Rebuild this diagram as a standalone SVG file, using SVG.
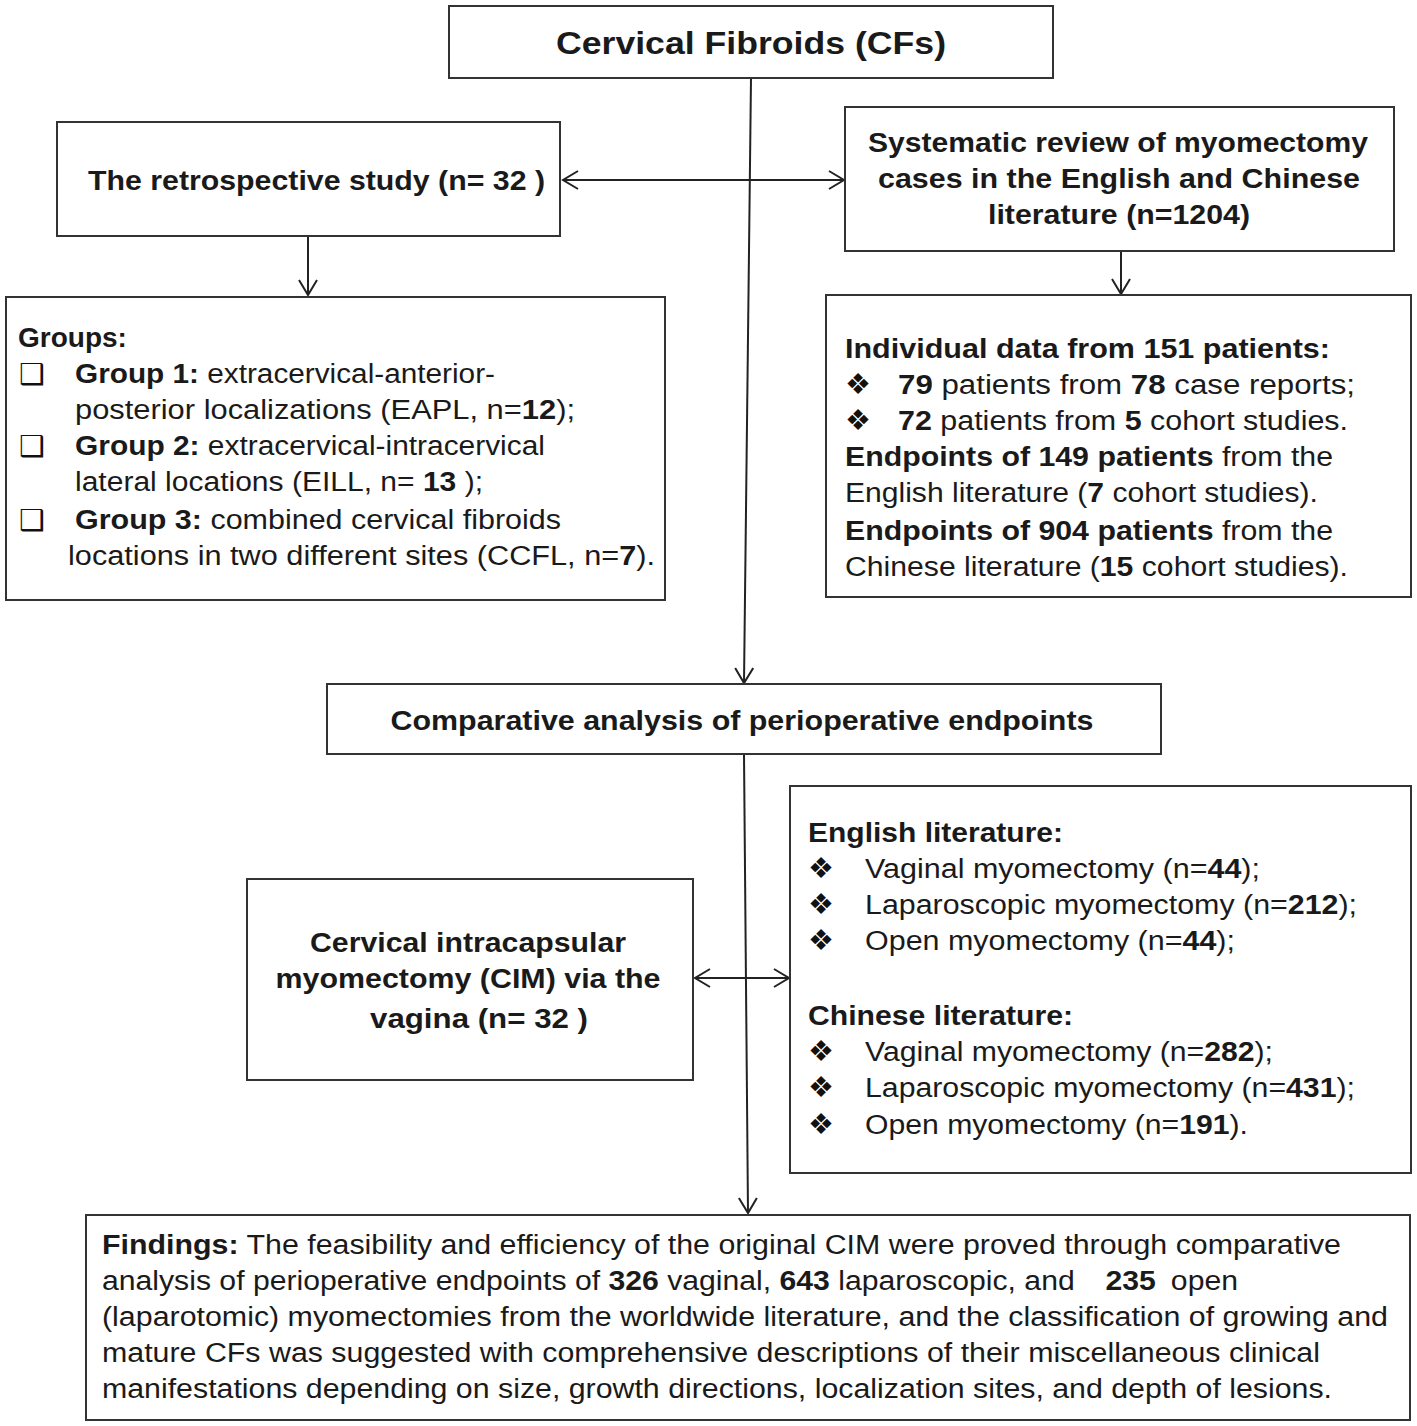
<svg xmlns="http://www.w3.org/2000/svg" width="1417" height="1426" viewBox="0 0 1417 1426">
<style>
.box{fill:#fff;stroke:#333;stroke-width:2}
.t{font-family:"Liberation Sans",Arial,sans-serif;font-size:27px;fill:#1a1a1a}
.b{font-weight:bold}
.c{text-anchor:middle}
.sym{font-family:"DejaVu Sans",sans-serif;font-size:29px;fill:#111}
.ln{stroke:#222;stroke-width:2;fill:none}
</style>
<defs>
<marker id="ah" markerUnits="userSpaceOnUse" markerWidth="20" markerHeight="22" refX="16" refY="10" orient="auto-start-reverse" viewBox="0 0 20 22">
<path d="M1,1 L16,10 L1,19" fill="none" stroke="#222" stroke-width="2"/>
</marker>
</defs>
<rect width="1417" height="1426" fill="#fff"/>

<g id="connectors">
<line class="ln" x1="751" y1="78" x2="744" y2="683" marker-end="url(#ah)"/>
<line class="ln" x1="563" y1="180" x2="844" y2="180" marker-start="url(#ah)" marker-end="url(#ah)"/>
<line class="ln" x1="308" y1="236" x2="308" y2="295" marker-end="url(#ah)"/>
<line class="ln" x1="1121" y1="251" x2="1121" y2="294" marker-end="url(#ah)"/>
<line class="ln" x1="744" y1="754" x2="748" y2="1213" marker-end="url(#ah)"/>
<line class="ln" x1="695" y1="978" x2="789" y2="978" marker-start="url(#ah)" marker-end="url(#ah)"/>
</g>

<g id="node-cfs">
<rect class="box" x="449" y="6" width="604" height="72"/>
<text class="t b c" x="751" y="54" style="font-size:32px" textLength="390" lengthAdjust="spacingAndGlyphs">Cervical Fibroids (CFs)</text>
</g>

<g id="node-retro">
<rect class="box" x="57" y="122" width="503" height="114"/>
<text class="t b" x="88" y="190" textLength="457" lengthAdjust="spacingAndGlyphs">The retrospective study (n= 32 )</text>
</g>

<g id="node-review">
<rect class="box" x="845" y="107" width="549" height="144"/>
<text class="t b c" x="1118" y="152" textLength="500" lengthAdjust="spacingAndGlyphs">Systematic review of myomectomy</text>
<text class="t b c" x="1119" y="188" textLength="482" lengthAdjust="spacingAndGlyphs">cases in the English and Chinese</text>
<text class="t b c" x="1119" y="224" textLength="262" lengthAdjust="spacingAndGlyphs">literature (n=1204)</text>
</g>

<g id="node-groups">
<rect class="box" x="6" y="297" width="659" height="303"/>
<text class="t b" x="18" y="347" style="font-size:28px">Groups:</text>
<text class="sym" x="19" y="384">❑</text>
<text class="t" x="75" y="383" textLength="420" lengthAdjust="spacingAndGlyphs"><tspan class="b">Group 1:</tspan> extracervical-anterior-</text>
<text class="t" x="75" y="419" textLength="500" lengthAdjust="spacingAndGlyphs">posterior localizations (EAPL, n=<tspan class="b">12</tspan>);</text>
<text class="sym" x="19" y="456">❑</text>
<text class="t" x="75" y="455" textLength="470" lengthAdjust="spacingAndGlyphs"><tspan class="b">Group 2:</tspan> extracervical-intracervical</text>
<text class="t" x="75" y="491" textLength="408" lengthAdjust="spacingAndGlyphs">lateral locations (EILL, n= <tspan class="b">13</tspan> );</text>
<text class="sym" x="19" y="530">❑</text>
<text class="t" x="75" y="529" textLength="486" lengthAdjust="spacingAndGlyphs"><tspan class="b">Group 3:</tspan> combined cervical fibroids</text>
<text class="t" x="68" y="565" textLength="587" lengthAdjust="spacingAndGlyphs">locations in two different sites (CCFL, n=<tspan class="b">7</tspan>).</text>
</g>

<g id="node-individual">
<rect class="box" x="826" y="295" width="585" height="302"/>
<text class="t b" x="845" y="358" textLength="485" lengthAdjust="spacingAndGlyphs">Individual data from 151 patients:</text>
<text class="sym" x="845" y="394">❖</text>
<text class="t" x="898" y="394" textLength="457" lengthAdjust="spacingAndGlyphs"><tspan class="b">79</tspan> patients from <tspan class="b">78</tspan> case reports;</text>
<text class="sym" x="845" y="430">❖</text>
<text class="t" x="898" y="430" textLength="450" lengthAdjust="spacingAndGlyphs"><tspan class="b">72</tspan> patients from <tspan class="b">5</tspan> cohort studies.</text>
<text class="t" x="845" y="466" textLength="488" lengthAdjust="spacingAndGlyphs"><tspan class="b">Endpoints of 149 patients</tspan> from the</text>
<text class="t" x="845" y="502" textLength="473" lengthAdjust="spacingAndGlyphs">English literature (<tspan class="b">7</tspan> cohort studies).</text>
<text class="t" x="845" y="540" textLength="488" lengthAdjust="spacingAndGlyphs"><tspan class="b">Endpoints of 904 patients</tspan> from the</text>
<text class="t" x="845" y="576" textLength="503" lengthAdjust="spacingAndGlyphs">Chinese literature (<tspan class="b">15</tspan> cohort studies).</text>
</g>

<g id="node-comparative">
<rect class="box" x="327" y="684" width="834" height="70"/>
<text class="t b c" x="742" y="730" textLength="703" lengthAdjust="spacingAndGlyphs">Comparative analysis of perioperative endpoints</text>
</g>

<g id="node-cim">
<rect class="box" x="247" y="879" width="446" height="201"/>
<text class="t b c" x="468" y="952" textLength="316" lengthAdjust="spacingAndGlyphs">Cervical intracapsular</text>
<text class="t b c" x="468" y="988" textLength="385" lengthAdjust="spacingAndGlyphs">myomectomy (CIM) via the</text>
<text class="t b c" x="479" y="1028" textLength="218" lengthAdjust="spacingAndGlyphs">vagina (n= 32 )</text>
</g>

<g id="node-literature">
<rect class="box" x="790" y="786" width="621" height="387"/>
<text class="t b" x="808" y="842" textLength="255" lengthAdjust="spacingAndGlyphs">English literature:</text>
<text class="sym" x="808" y="878">❖</text>
<text class="t" x="865" y="878" textLength="395" lengthAdjust="spacingAndGlyphs">Vaginal myomectomy (n=<tspan class="b">44</tspan>);</text>
<text class="sym" x="808" y="914">❖</text>
<text class="t" x="865" y="914" textLength="492" lengthAdjust="spacingAndGlyphs">Laparoscopic myomectomy (n=<tspan class="b">212</tspan>);</text>
<text class="sym" x="808" y="950">❖</text>
<text class="t" x="865" y="950" textLength="370" lengthAdjust="spacingAndGlyphs">Open myomectomy (n=<tspan class="b">44</tspan>);</text>
<text class="t b" x="808" y="1025" textLength="265" lengthAdjust="spacingAndGlyphs">Chinese literature:</text>
<text class="sym" x="808" y="1061">❖</text>
<text class="t" x="865" y="1061" textLength="408" lengthAdjust="spacingAndGlyphs">Vaginal myomectomy (n=<tspan class="b">282</tspan>);</text>
<text class="sym" x="808" y="1097">❖</text>
<text class="t" x="865" y="1097" textLength="490" lengthAdjust="spacingAndGlyphs">Laparoscopic myomectomy (n=<tspan class="b">431</tspan>);</text>
<text class="sym" x="808" y="1134">❖</text>
<text class="t" x="865" y="1134" textLength="383" lengthAdjust="spacingAndGlyphs">Open myomectomy (n=<tspan class="b">191</tspan>).</text>
</g>

<g id="node-findings">
<rect class="box" x="86" y="1215" width="1324" height="205"/>
<text class="t" x="102" y="1254" textLength="1239" lengthAdjust="spacingAndGlyphs"><tspan class="b">Findings:</tspan> The feasibility and efficiency of the original CIM were proved through comparative</text>
<text class="t" x="102" y="1290" textLength="1136" lengthAdjust="spacingAndGlyphs">analysis of perioperative endpoints of <tspan class="b">326</tspan> vaginal, <tspan class="b">643</tspan> laparoscopic, and <tspan class="b" dx="20">235</tspan> <tspan dx="6">open</tspan></text>
<text class="t" x="102" y="1326" textLength="1286" lengthAdjust="spacingAndGlyphs">(laparotomic) myomectomies from the worldwide literature, and the classification of growing and</text>
<text class="t" x="102" y="1362" textLength="1218" lengthAdjust="spacingAndGlyphs">mature CFs was suggested with comprehensive descriptions of their miscellaneous clinical</text>
<text class="t" x="102" y="1398" textLength="1230" lengthAdjust="spacingAndGlyphs">manifestations depending on size, growth directions, localization sites, and depth of lesions.</text>
</g>
</svg>
